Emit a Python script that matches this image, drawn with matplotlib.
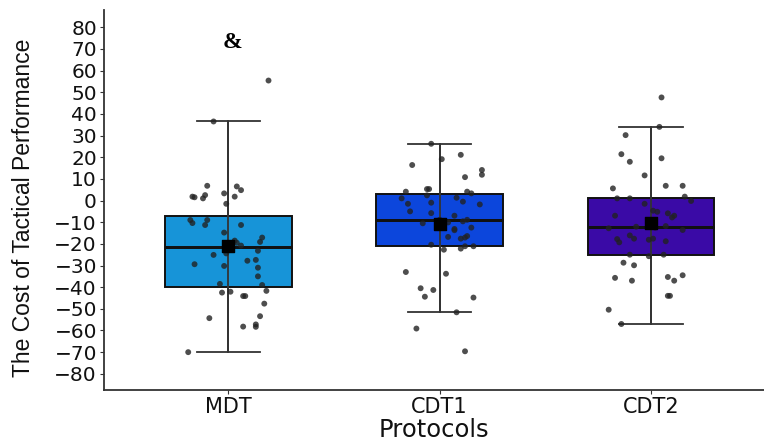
import matplotlib.pyplot as plt

# Protocol groups
protocols = ['MDT', 'CDT1', 'CDT2']
box_colors = ['#1794d8', '#0c46dc', '#3a0aa6']

# Box statistics
q1 = [-39.8, -21.1, -25.0]
medians = [-21.3, -9.0, -12.1]
q3 = [-7.0, 3.0, 1.0]
whisker_low = [-70.0, -51.6, -57.0]
whisker_high = [36.7, 26.2, 34.0]
means = [-20.8, -11.0, -10.5]

# Individual observations (value) and their horizontal jitter (category units)
mdt_values = [55.4, 36.5, 6.8, 6.5, 4.8, 2.5, 1.8, 1.5, 1.0, 3.3, 1.8, -1.5,
              -9.0, -10.4, -9.0, -11.3, -11.3, -14.8, -17.1, -19.1, -18.5, -19.5,
              -20.8, -23.2, -24.4, -25.1, -27.8, -27.4, -29.4, -30.2, -31.0, -35.0,
              -38.5, -39.0, -41.7, -42.5, -42.1, -44.1, -44.1, -47.6, -53.4, -54.3,
              -58.2, -57.2, -58.3, -70.0]
mdt_jitter = [0.19, -0.07, -0.10, 0.04, 0.06, -0.11, -0.17, -0.16, -0.12, -0.02, 0.03, -0.01,
              -0.18, -0.17, -0.10, -0.11, 0.06, -0.02, 0.16, 0.15, 0.03, 0.04,
              0.06, 0.14, -0.01, -0.07, 0.09, 0.13, -0.16, -0.02, 0.14, 0.14,
              -0.04, 0.16, 0.18, -0.03, 0.01, 0.07, 0.08, 0.17, 0.15, -0.09,
              0.07, 0.13, 0.13, -0.19]

cdt1_values = [26.2, 21.1, 19.1, 16.4, 14.1, 11.9, 10.8, 4.1, 5.3, 5.3, 2.4, 4.1,
               3.3, 1.0, -1.5, -1.0, 1.3, -0.5, -1.8, -5.0, -5.8, -7.0, -8.9, -9.6,
               -8.9, -10.5, -10.1, -12.5, -13.1, -13.7, -16.8, -16.4, -17.1, -17.6,
               -20.4, -21.1, -22.2, -21.1, -22.7, -33.0, -33.8, -40.5, -41.3, -44.4,
               -44.8, -51.6, -59.1, -69.6]
cdt1_jitter = [-0.04, 0.10, 0.01, -0.13, 0.20, 0.20, 0.12, -0.16, -0.06, -0.05, -0.06, 0.13,
               0.15, -0.18, -0.15, -0.04, 0.08, 0.11, 0.19, -0.14, -0.04, 0.07, 0.13, 0.11,
               0.00, -0.08, 0.04, 0.15, 0.07, 0.07, 0.04, 0.13, 0.12, 0.10,
               -0.04, 0.12, 0.10, 0.16, 0.02, -0.16, 0.03, -0.09, -0.03, -0.07,
               0.16, 0.08, -0.11, 0.12]

cdt2_values = [47.6, 34.0, 30.2, 21.4, 17.9, 19.5, 11.6, 5.6, 6.8, 6.8, 1.0, 1.0,
               1.8, -0.2, -1.5, -4.7, -5.2, -5.9, -7.0, -7.8, -7.0, -12.8, -12.1, -12.5,
               -11.8, -13.6, -16.1, -17.8, -19.3, -17.6, -18.1, -17.6, -18.8, -25.0,
               -25.7, -25.0, -28.7, -29.9, -35.7, -37.0, -35.3, -37.0, -34.5, -44.0,
               -44.0, -50.4, -57.0]
cdt2_jitter = [0.05, 0.04, -0.12, -0.14, -0.10, 0.05, -0.03, -0.18, 0.07, 0.15, -0.16, -0.10,
               0.16, 0.19, -0.03, 0.01, 0.03, 0.08, 0.11, 0.10, -0.17, -0.20, -0.07, 0.02,
               0.07, 0.15, -0.10, -0.16, -0.15, -0.08, -0.01, 0.01, 0.07, -0.10,
               -0.01, 0.06, -0.13, -0.08, -0.17, -0.09, 0.08, 0.11, 0.15, 0.08,
               0.09, -0.20, -0.14]

values = [mdt_values, cdt1_values, cdt2_values]
jitters = [mdt_jitter, cdt1_jitter, cdt2_jitter]

fig = plt.figure(figsize=(7.64, 4.41), dpi=100)
ax = fig.add_axes([0.136, 0.116, 0.864, 0.861])

positions = [1, 2, 3]
stats = []
for i in range(3):
    stats.append({'q1': q1[i], 'med': medians[i], 'q3': q3[i],
                  'whislo': whisker_low[i], 'whishi': whisker_high[i],
                  'mean': means[i], 'fliers': []})

bp = ax.bxp(stats, positions=positions, widths=0.6, patch_artist=True,
            showmeans=False, showfliers=False,
            boxprops=dict(edgecolor='#111111', linewidth=1.4),
            medianprops=dict(color='#111111', linewidth=2),
            whiskerprops=dict(color='#333333', linewidth=1.3),
            capprops=dict(color='#333333', linewidth=1.3),
            capwidths=0.3)
for patch, c in zip(bp['boxes'], box_colors):
    patch.set_facecolor(c)

# whisker line runs through the box
ax.vlines(positions, whisker_low, whisker_high, color='#333333', linewidth=1.3, zorder=2.5)
for i in range(3):
    ax.hlines(medians[i], positions[i] - 0.3, positions[i] + 0.3,
              color='#111111', linewidth=2, zorder=2.6)

# jittered points
for i in range(3):
    xs = [positions[i] + j for j in jitters[i]]
    ax.scatter(xs, values[i], s=18, color='#222222', alpha=0.8,
               edgecolors='none', zorder=4)

# mean markers
ax.scatter(positions, means, marker='s', s=80, color='black', zorder=5)

ax.text(1.02, 73, '&', ha='center', va='center', fontsize=17,
        fontweight='bold', family='Liberation Serif')

ax.set_xlim(0.411, 3.535)
ax.set_ylim(-87.4, 87.9)
ax.set_yticks(range(-80, 81, 10))
ax.set_xticks(positions)
ax.set_xticklabels(protocols)
ax.tick_params(axis='y', labelsize=14.5, colors='#333333', labelcolor='#111111', length=3, pad=2)
ax.tick_params(axis='x', labelsize=15, colors='#333333', labelcolor='#111111', length=3, pad=2)

for s in ['top', 'right']:
    ax.spines[s].set_visible(False)
for s in ['left', 'bottom']:
    ax.spines[s].set_color('#333333')
    ax.spines[s].set_linewidth(1.3)

ax.set_xlabel('Protocols', fontsize=17.5, color='#111111', labelpad=1)
ax.set_ylabel('The Cost of Tactical Performance', fontsize=16.5, color='#111111',
              family='Liberation Sans')
ax.yaxis.set_label_coords(-0.105, 0.48)

fig.savefig('out.png', dpi=100)
